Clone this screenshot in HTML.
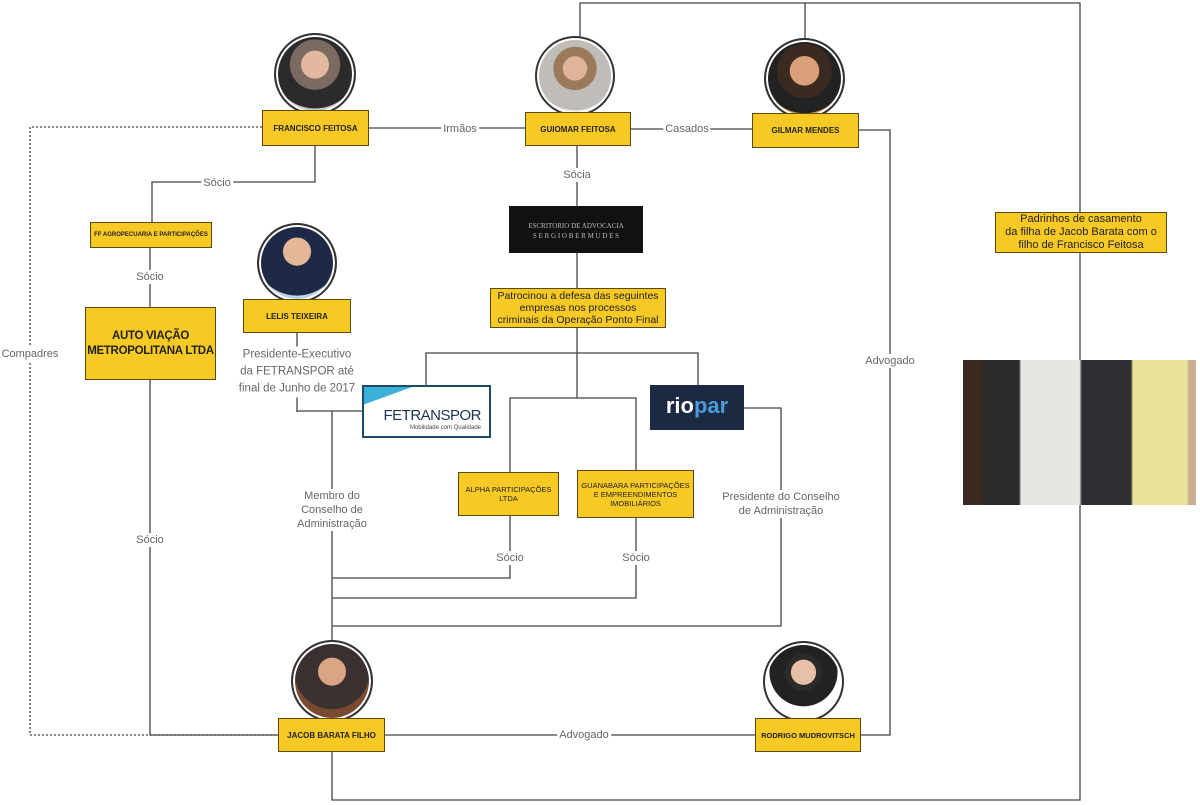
<!DOCTYPE html>
<html><head><meta charset="utf-8"><style>
body{margin:0;width:1200px;height:805px;background:#fff;position:relative;overflow:hidden;font-family:"Liberation Sans",sans-serif}
.b{position:absolute;background:#f7c925;border:1px solid #5a4a10;box-sizing:border-box;display:flex;align-items:center;justify-content:center;text-align:center;color:#222;font-weight:bold;font-size:8px;white-space:nowrap}
.c{position:absolute;border-radius:50%;border:2px solid #333;box-sizing:border-box;background:radial-gradient(circle at 50% 38%,#e2b9a0 0 22%,#7a6a60 23% 40%,#2b2b2b 41% 70%,#c8c8c8 71%);box-shadow:0 0 0 2px #fff inset}
.l{position:absolute;background:#fff;color:#666;font-size:11px;text-align:center;line-height:14px;transform:translate(-50%,-50%);white-space:nowrap;padding:0 2px}
.y{font-family:"Liberation Sans",sans-serif;font-weight:normal;font-size:11px;line-height:13px}
</style></head><body>
<svg width="1200" height="805" style="position:absolute;left:0;top:0" fill="none" stroke="#444" stroke-width="1.3">
<polyline points="580,38 580,3 1080,3 1080,800 332,800 332,752"/>
<line x1="805" y1="3" x2="805" y2="40"/>
<line x1="369" y1="128" x2="525" y2="128"/>
<line x1="631" y1="129" x2="752" y2="129"/>
<polyline points="859,130 890,130 890,735 861,735"/>
<polyline points="262,127 30,127 30,735 278,735" stroke-dasharray="2,2"/>
<polyline points="315,146 315,182 152,182 152,222"/>
<line x1="150" y1="248" x2="150" y2="307"/>
<polyline points="150,380 150,735 278,735"/>
<line x1="297" y1="333" x2="297" y2="412"/>
<line x1="297" y1="411" x2="362" y2="411"/>
<line x1="332" y1="411" x2="332" y2="718"/>
<line x1="577" y1="146" x2="577" y2="288"/>
<line x1="577" y1="328" x2="577" y2="398"/>
<polyline points="426,385 426,353 698,353 698,385"/>
<polyline points="510,472 510,398 636,398 636,470"/>
<polyline points="744,408 781,408 781,626 332,626"/>
<polyline points="510,516 510,578 332,578"/>
<polyline points="636,518 636,598 332,598"/>
<line x1="385" y1="735" x2="755" y2="735"/>
</svg>
<div class="c" style="left:274px;top:33px;width:82px;height:82px"></div>
<div class="c" style="left:535px;top:36px;width:80px;height:80px;background:radial-gradient(circle at 50% 40%,#e0b49a 0 20%,#9a7a5a 21% 36%,#c0bcb8 37% 70%,#eee 71%)"></div>
<div class="c" style="left:764px;top:38px;width:81px;height:81px;background:radial-gradient(circle at 50% 40%,#d9a07a 0 24%,#3a2a20 25% 45%,#222 46% 70%,#c79a40 71%)"></div>
<div class="c" style="left:257px;top:223px;width:80px;height:80px;background:radial-gradient(circle at 50% 35%,#e6b89a 0 22%,#1e2a45 23% 70%,#bcd6ea 71%)"></div>
<div class="c" style="left:291px;top:640px;width:82px;height:82px;background:radial-gradient(circle at 50% 38%,#d9a585 0 22%,#3a3030 23% 60%,#7a4a30 61%)"></div>
<div class="c" style="left:763px;top:641px;width:81px;height:81px;background:radial-gradient(circle at 50% 38%,#e8c0a8 0 20%,#2a2a2a 21% 30%,#222 31% 55%,#fff 56%)"></div>
<div class="b" style="left:262px;top:110px;width:107px;height:36px">FRANCISCO FEITOSA</div>
<div class="b" style="left:525px;top:112px;width:106px;height:34px">GUIOMAR FEITOSA</div>
<div class="b" style="left:752px;top:113px;width:107px;height:35px">GILMAR MENDES</div>
<div class="b" style="left:90px;top:222px;width:122px;height:26px;font-size:6px">FF AGROPECUARIA E PARTICIPAÇÕES</div>
<div class="b" style="left:85px;top:307px;width:131px;height:73px;font-size:11.5px;line-height:15px;letter-spacing:-0.3px">AUTO VIAÇÃO<br>METROPOLITANA LTDA</div>
<div class="b" style="left:243px;top:299px;width:108px;height:34px">LELIS TEIXEIRA</div>
<div class="b" style="left:278px;top:718px;width:107px;height:34px">JACOB BARATA FILHO</div>
<div class="b" style="left:755px;top:718px;width:106px;height:34px;font-size:7.5px">RODRIGO MUDROVITSCH</div>
<div class="b y" style="left:490px;top:288px;width:176px;height:40px;font-size:10.5px;line-height:12px">Patrocinou a defesa das seguintes<br>empresas nos processos<br>criminais da Operação Ponto Final</div>
<div class="b y" style="left:458px;top:472px;width:101px;height:44px;font-size:7.5px;line-height:9px">ALPHA PARTICIPAÇÕES<br>LTDA</div>
<div class="b y" style="left:577px;top:470px;width:117px;height:48px;font-size:7.5px;line-height:9px">GUANABARA PARTICIPAÇÕES<br>E EMPREENDIMENTOS<br>IMOBILIÁRIOS</div>
<div class="b y" style="left:995px;top:212px;width:172px;height:41px;line-height:13px">Padrinhos de casamento<br>da filha de Jacob Barata com o<br>filho de Francisco Feitosa</div>
<div style="position:absolute;left:509px;top:206px;width:134px;height:47px;background:#111;color:#bbb;font-family:'Liberation Serif',serif;font-size:7px;text-align:center;line-height:10px;padding-top:15px;box-sizing:border-box">ESCRITORIO DE ADVOCACIA<br>S E R G I O B E R M U D E S</div>
<div style="position:absolute;left:362px;top:385px;width:129px;height:53px;border:2px solid #1f4a6a;box-sizing:border-box;background:linear-gradient(160deg,#3bb0d8 0 18%,#fff 19%)">
<div style="position:absolute;right:8px;top:20px;font-size:15px;color:#1d3550;letter-spacing:-0.5px">FETRANSPOR</div>
<div style="position:absolute;right:8px;top:38px;font-size:6px;color:#444">Mobilidade com Qualidade</div></div>
<div style="position:absolute;left:650px;top:385px;width:94px;height:45px;background:#1b2942;color:#fff;font-size:22px;font-weight:bold;text-align:center;line-height:42px">rio<span style="color:#4a9cd8">par</span></div>
<div style="position:absolute;left:963px;top:360px;width:233px;height:145px;background:linear-gradient(90deg,#3a2a22 0 8%,#2a2a2a 9% 24%,#e8e6e2 25% 50%,#2f2f33 51% 72%,#eae29a 73% 96%,#c8b090 97%)"></div>
<div class="l" style="left:460px;top:129px">Irmãos</div>
<div class="l" style="left:687px;top:129px">Casados</div>
<div class="l" style="left:217px;top:183px">Sócio</div>
<div class="l" style="left:577px;top:175px">Sócia</div>
<div class="l" style="left:150px;top:277px">Sócio</div>
<div class="l" style="left:30px;top:354px">Compadres</div>
<div class="l" style="left:890px;top:361px">Advogado</div>
<div class="l" style="left:297px;top:372px;line-height:17px;font-size:11.5px">Presidente-Executivo<br>da FETRANSPOR até<br>final de Junho de 2017</div>
<div class="l" style="left:332px;top:510px;line-height:14px">Membro do<br>Conselho de<br>Administração</div>
<div class="l" style="left:781px;top:504px;line-height:14px">Presidente do Conselho<br>de Administração</div>
<div class="l" style="left:150px;top:540px">Sócio</div>
<div class="l" style="left:510px;top:558px">Sócio</div>
<div class="l" style="left:636px;top:558px">Sócio</div>
<div class="l" style="left:584px;top:735px">Advogado</div>
</body></html>
